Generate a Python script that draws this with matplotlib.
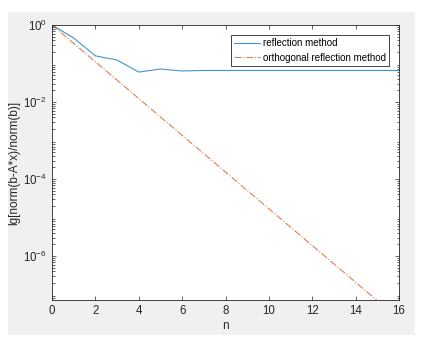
import matplotlib
matplotlib.use("Agg")
import matplotlib.pyplot as plt
from matplotlib.ticker import LogLocator, NullFormatter

n = list(range(0, 17))
reflection = [1.0, 0.46, 0.158, 0.123, 0.060, 0.072, 0.064, 0.066, 0.066, 0.066,
              0.066, 0.066, 0.066, 0.066, 0.066, 0.066, 0.066]
orthogonal = [1.0, 3.33e-1, 1.11e-1, 3.70e-2, 1.23e-2, 4.12e-3, 1.37e-3, 4.57e-4,
              1.52e-4, 5.08e-5, 1.69e-5, 5.65e-6, 1.88e-6, 6.27e-7, 2.09e-7,
              6.97e-8, 2.32e-8]
xticks = [0, 2, 4, 6, 8, 10, 12, 14, 16]
yticks = [1e0, 1e-2, 1e-4, 1e-6]

plt.rcParams['font.family'] = ['Liberation Sans', 'DejaVu Sans']
fig = plt.figure(figsize=(4.30, 3.39), dpi=100, facecolor='white')
# gray figure panel
bg = fig.add_axes([8/430, 1 - 335/339, 407/430, 323/339])
bg.set_facecolor('#f0f0f0')
bg.set_xticks([]); bg.set_yticks([])
for s in bg.spines.values():
    s.set_visible(False)

ax = fig.add_axes([52/430, 1 - 300/339, 347/430, 275/339])
ax.semilogy(n, reflection, color='#0072BD', lw=0.8, label='reflection method', alpha=0.75)
ax.semilogy(n, orthogonal, color='#D95319', lw=0.8, ls='-.', label='orthogonal reflection method', alpha=0.75)
ax.set_xlim(0, 16)
ax.set_ylim(10**-7.14, 1)
ax.set_xticks(xticks)
ax.set_yticks(yticks)
ax.yaxis.set_minor_locator(LogLocator(base=10, subs=range(2, 10), numticks=20))
ax.yaxis.set_minor_formatter(NullFormatter())
ax.tick_params(which='both', direction='in', top=True, right=True, labelsize=8.3,
               colors='#262626', width=0.5)
ax.tick_params(which='major', length=3)
ax.tick_params(which='minor', length=1.8)
for s in ax.spines.values():
    s.set_color('#262626'); s.set_linewidth(0.6)
ax.set_xlabel('n', fontsize=8.5, color='#262626', labelpad=2)
ax.set_ylabel('lg[norm(b-A*x)/norm(b)]', fontsize=8.5, color='#262626', labelpad=2)
leg = ax.legend(loc='upper right', fontsize=7, frameon=True, fancybox=False,
                edgecolor='#262626', framealpha=1, borderpad=0.35, labelspacing=0.45,
                handlelength=2.6, handletextpad=0.3, borderaxespad=0,
                bbox_to_anchor=(0.971, 0.964))
leg.get_frame().set_linewidth(0.6)
fig.savefig('out.png', dpi=100, facecolor='white')
